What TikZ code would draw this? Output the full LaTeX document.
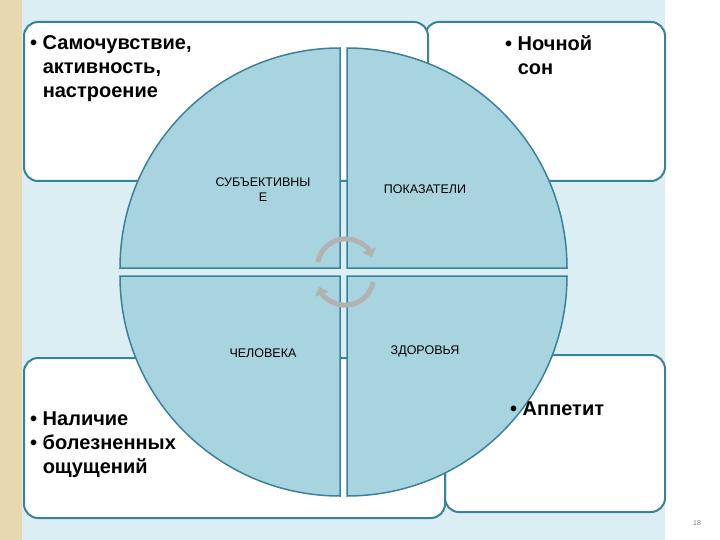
\documentclass[tikz,border=0pt]{standalone}
\usepackage{fontspec}
\setmainfont{Liberation Sans}
\usetikzlibrary{arrows.meta}
\begin{document}
\begin{tikzpicture}[x=1pt,y=-1pt,
  box/.style={draw=edge,line width=2pt,fill=white,rounded corners=14pt},
  quad/.style={draw=edge,line width=1.5pt,fill=quadfill},
  big/.style={font=\bfseries\fontsize{20}{24}\selectfont,align=left,anchor=north west,inner sep=0},
  small/.style={font=\fontsize{12.5}{15}\selectfont,align=center,inner sep=0},
  cyc/.style={line width=5pt,draw=gray!60,-{Triangle[length=8pt,width=14pt]}}]
\definecolor{edge}{HTML}{3A8299}
\definecolor{quadfill}{HTML}{A8D4E0}
\definecolor{bgc}{HTML}{DAEEF3}
\definecolor{beige}{HTML}{E8D8B0}
\useasboundingbox (0,0) rectangle (720,540);
\fill[white] (0,0) rectangle (720,540);
\fill[bgc] (22,0) rectangle (665,540);
\fill[beige] (0,0) rectangle (22,540);
% boxes
\draw[box] (425,22) rectangle (665,181);
\draw[box] (24,22) rectangle (428,181);
\draw[box] (445,355) rectangle (665,512);
\draw[box] (24,358) rectangle (445,518);
% quadrants
\def\R{220}
\draw[quad] (340,268) -- ++(-\R,0) arc[start angle=180,end angle=270,radius=\R] -- cycle;
\draw[quad] (347,268) -- ++(0,-\R) arc[start angle=270,end angle=360,radius=\R] -- cycle;
\draw[quad] (340,276) -- ++(0,\R) arc[start angle=90,end angle=180,radius=\R] -- cycle;
\draw[quad] (347,276) -- ++(\R,0) arc[start angle=0,end angle=90,radius=\R] -- cycle;
% texts
\node[big] (t1) at (30,35) {• Самочувствие,\\\phantom{• }активность,\\\phantom{• }настроение};
\node[big] (t2) at (505,35) {• Ночной\\\phantom{• }сон};
\node[big] (t3) at (30,412) {• Наличие\\• болезненных\\\phantom{• }ощущений};
\node[big] (t4) at (510,402) {• Аппетит};
\node[small] (l1) at (263,190) {СУБЪЕКТИВНЫ\\Е};
\node[small] (l2) at (425,189) {ПОКАЗАТЕЛИ};
\node[small] (l3) at (263,353) {ЧЕЛОВЕКА};
\node[small] (l4) at (425,351) {ЗДОРОВЬЯ};
% cycle arrows
\draw[cyc] (318,262) arc[start angle=190,end angle=340,radius=28];
\draw[cyc] (373,282) arc[start angle=10,end angle=160,radius=28];
\node[font=\fontsize{7}{8}\selectfont,text=gray] (pg) at (697,523) {18};
\end{tikzpicture}
\end{document}
